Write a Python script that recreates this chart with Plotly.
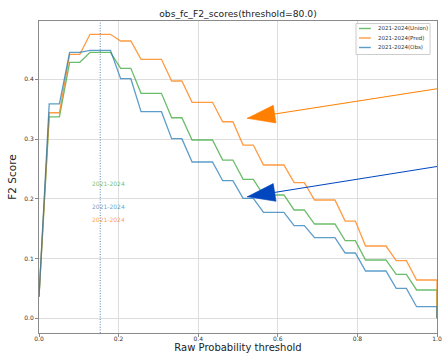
import numpy as np
import plotly.graph_objects as go

# ---------------- data ----------------
thresholds = list(np.linspace(0, 1, 40)) + [1.0]

union = [0.036, 0.337, 0.337, 0.4285, 0.4285, 0.4452, 0.4452, 0.4452, 0.4184, 0.4184,
         0.3766, 0.3766, 0.3766, 0.3357, 0.3357, 0.2984, 0.2984, 0.2984, 0.2649, 0.2649,
         0.2326, 0.2326, 0.2064, 0.2064, 0.2064, 0.1813, 0.1813, 0.1578, 0.1578, 0.1578,
         0.1299, 0.1299, 0.0976, 0.0976, 0.0976, 0.0736, 0.0736, 0.0474, 0.0474, 0.0474,
         0.0]
pred = [0.036, 0.344, 0.344, 0.4418, 0.4418, 0.4753, 0.4753, 0.4753, 0.4641, 0.4641,
        0.4335, 0.4335, 0.4335, 0.3972, 0.3972, 0.3615, 0.3615, 0.3615, 0.329, 0.329,
        0.290, 0.290, 0.2566, 0.2566, 0.2566, 0.227, 0.227, 0.198, 0.198, 0.198,
        0.1628, 0.1628, 0.121, 0.121, 0.121, 0.0964, 0.0964, 0.0641, 0.0641, 0.0641,
        0.0]
obs = [0.036, 0.359, 0.359, 0.445, 0.445, 0.4485, 0.4485, 0.4485, 0.401, 0.401,
       0.3458, 0.3458, 0.3458, 0.3006, 0.3006, 0.2616, 0.2616, 0.2616, 0.2303, 0.2303,
       0.2008, 0.2008, 0.1774, 0.1774, 0.1774, 0.155, 0.155, 0.1349, 0.1349, 0.1349,
       0.1093, 0.1093, 0.0792, 0.0792, 0.0792, 0.0502, 0.0502, 0.0194, 0.0194, 0.0194,
       0.0]

series_names = ["2021-2024(Union)", "2021-2024(Pred)", "2021-2024(Obs)"]
series_values = [union, pred, obs]
series_colors = ["rgba(44,160,44,0.7)", "rgba(255,127,14,0.78)", "rgba(31,119,180,0.72)"]

best_threshold_index = 6
period_label = "2021-2024"
period_label_x = 0.174
period_label_y = [0.2248, 0.1657, 0.1868]   # Union, Pred, Obs

arrow_tips_x = [0.5236, 0.5236]
arrow_tips_y = [0.3347, 0.2035]
arrow_tails_x = [1.25, 1.25]
arrow_tails_y = [0.4102, 0.2807]
arrow_colors = ["#ff8000", "#0047bf"]

x_ticks = [0.0, 0.2, 0.4, 0.6, 0.8, 1.0]
y_ticks = [0.0, 0.1, 0.2, 0.3, 0.4]

FONT = "DejaVu Sans"

# ---------------- figure ----------------
fig = go.Figure()

for name, vals, col in zip(series_names, series_values, series_colors):
    fig.add_trace(go.Scatter(x=thresholds, y=vals, mode="lines", name=name,
                             line=dict(color=col, width=1.3), showlegend=False))

# arrows: shaft line, then a solid head oriented along the shaft
for tx, ty, hx, hy, col in zip(arrow_tails_x, arrow_tails_y, arrow_tips_x, arrow_tips_y, arrow_colors):
    fig.add_trace(go.Scatter(x=[tx, hx], y=[ty, hy], mode="lines",
                             line=dict(color=col, width=1.1),
                             showlegend=False, hoverinfo="skip"))
    fig.add_trace(go.Scatter(x=[tx, hx], y=[ty, hy], mode="markers",
                             marker=dict(symbol="arrow", size=[0, 29], angleref="previous",
                                         color=col, opacity=1, line=dict(width=0.6, color=col)),
                             showlegend=False, hoverinfo="skip"))

# dotted vertical line at best threshold
fig.add_shape(type="line", xref="x", yref="paper",
              x0=thresholds[best_threshold_index], x1=thresholds[best_threshold_index],
              y0=0, y1=1, line=dict(color="rgba(31,90,150,0.85)", width=0.9, dash="1px,1.6px"))

# period labels
for yv, col in zip(period_label_y, series_colors):
    fig.add_annotation(x=period_label_x, y=yv, text=period_label, showarrow=False,
                       xanchor="center", yanchor="middle",
                       font=dict(family=FONT, size=6, color=col))

# manual legend
leg_x0, leg_x1 = 0.7965, 0.9826
leg_y0, leg_y1 = 0.8927, 0.992
fig.add_shape(type="rect", xref="paper", yref="paper", x0=leg_x0, x1=leg_x1,
              y0=leg_y0, y1=leg_y1, line=dict(color="#cccccc", width=1),
              fillcolor="rgba(255,255,255,0.85)", layer="above")
row_y = [0.976, 0.9456, 0.9151]
for name, col, ry in zip(series_names, series_colors, row_y):
    fig.add_shape(type="line", xref="paper", yref="paper", x0=0.804, x1=0.8337,
                  y0=ry, y1=ry, line=dict(color=col, width=1.4), layer="above")
    fig.add_annotation(xref="paper", yref="paper", x=0.8462, y=ry, text=name,
                       showarrow=False, xanchor="left", yanchor="middle",
                       font=dict(family=FONT, size=5.5, color="#333333"))

axis_common = dict(showgrid=True, gridcolor="#dddddd", gridwidth=1,
                   showline=True, linecolor="#8a8a8a", linewidth=1, mirror=True,
                   ticks="outside", ticklen=3, tickcolor="#8a8a8a", tickwidth=1,
                   tickfont=dict(family=FONT, size=6, color="#333333"),
                   zeroline=False, tickformat=".1f", ticklabeloverflow="allow")

fig.update_layout(
    width=445, height=356,
    margin=dict(l=39, r=3, t=21, b=23),
    paper_bgcolor="white", plot_bgcolor="white",
    title=dict(text="obs_fc_F2_scores(threshold=80.0)", xref="paper", x=0.5,
               xanchor="center", y=1 - 14 / 356, yanchor="middle",
               font=dict(family=FONT, size=9.2, color="#222222")),
    xaxis=dict(range=[0, 1], tickvals=x_ticks, ticklabelstandoff=-3,
               title=dict(text="Raw Probability threshold", standoff=1,
                          font=dict(family=FONT, size=10, color="#222222")),
               **axis_common),
    yaxis=dict(range=[-0.0246, 0.4976], tickvals=y_ticks,
               title=dict(text="F2 Score", standoff=5,
                          font=dict(family=FONT, size=10.5, color="#222222")),
               **axis_common),
    showlegend=False,
)

fig.write_html("out.html")
